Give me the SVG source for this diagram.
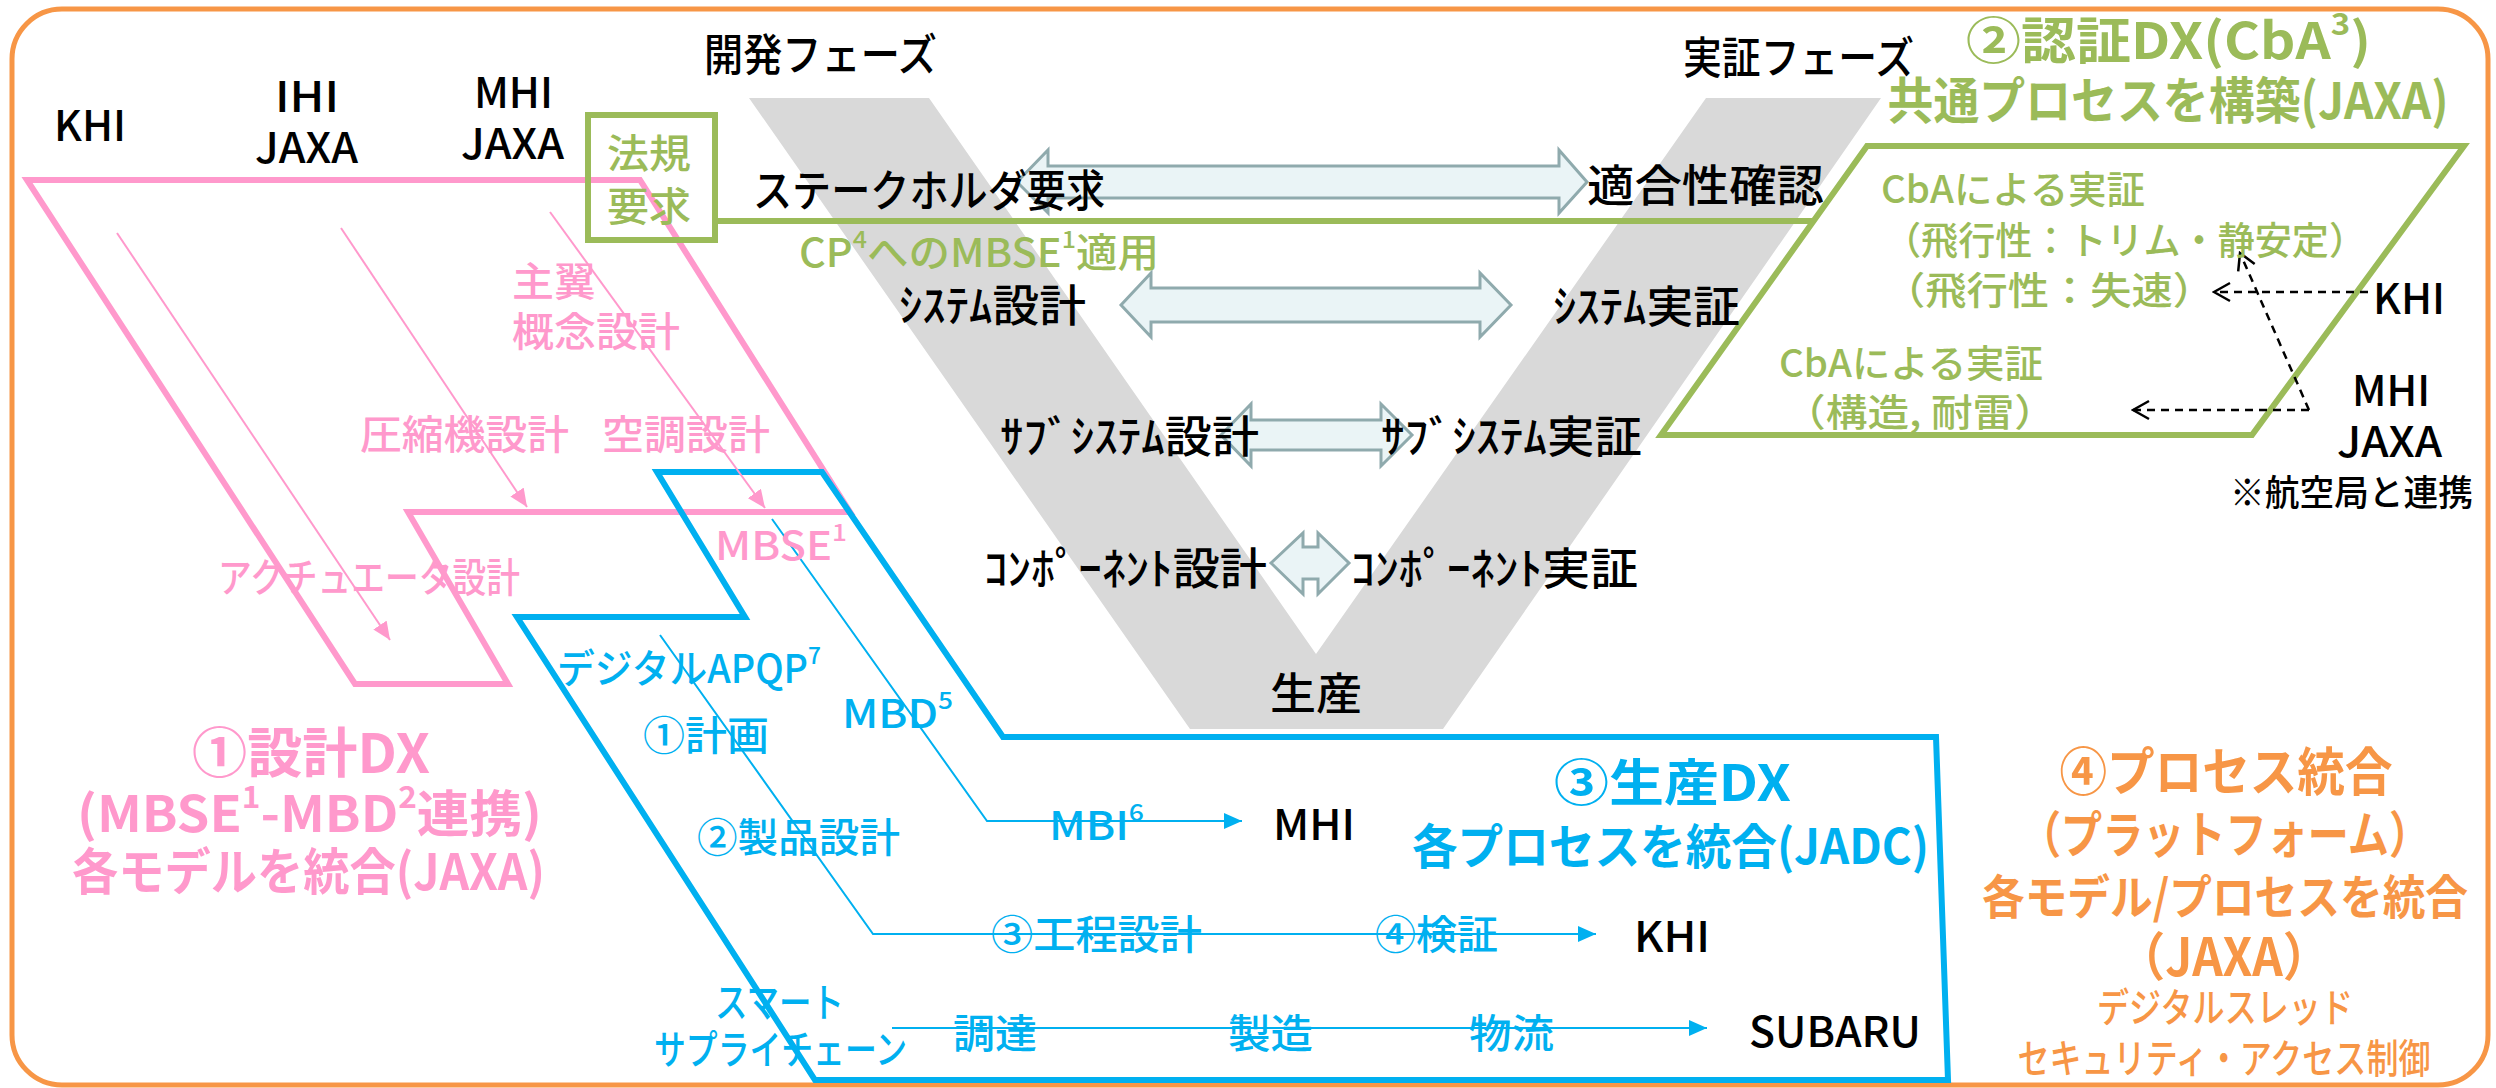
<svg xmlns="http://www.w3.org/2000/svg" width="2496" height="1088" viewBox="0 0 2496 1088">
<defs>
<style>
text{font-family:"Noto Sans CJK JP","Noto Sans",sans-serif;dominant-baseline:central;font-weight:500}
.k{fill:#000;font-size:44px}
.kl{fill:#000;font-size:42px}
.g{fill:#9BBB59;font-size:38px}
.p{fill:#FF99CC;font-size:40px}
.b{fill:#00B0F0;font-size:40px}
.o{fill:#F79646;font-size:40px;text-anchor:middle}
.bd{font-weight:bold}
.dbl{fill:#EAF4F6;stroke:#8FAAAD;stroke-width:3}
.pk{fill:none;stroke:#FF99CC;stroke-width:6;stroke-linejoin:miter}
.bl{fill:none;stroke:#00B0F0;stroke-width:6;stroke-linejoin:miter}
.gr{fill:none;stroke:#9BBB59;stroke-width:6}
.pt{fill:none;stroke:#FF99CC;stroke-width:2}
.bt{fill:none;stroke:#00B0F0;stroke-width:2}
.ds{fill:none;stroke:#000;stroke-width:2.5;stroke-dasharray:8 6}
</style>
<marker id="mp" markerUnits="userSpaceOnUse" viewBox="0 0 18 16" refX="18" refY="8" markerWidth="18" markerHeight="16" orient="auto"><path d="M0,0 L18,8 L0,16 z" fill="#FF99CC"/></marker>
<marker id="mb" markerUnits="userSpaceOnUse" viewBox="0 0 18 16" refX="18" refY="8" markerWidth="18" markerHeight="16" orient="auto"><path d="M0,0 L18,8 L0,16 z" fill="#00B0F0"/></marker>
<marker id="mo" markerUnits="userSpaceOnUse" viewBox="0 0 20 22" refX="18" refY="11" markerWidth="20" markerHeight="22" orient="auto"><path d="M2,2 L18,11 L2,20" fill="none" stroke="#000" stroke-width="2.5" stroke-dasharray="none"/></marker>
</defs>

<g id="frame"><rect x="12" y="9" width="2476" height="1076" rx="50" ry="50" fill="#fff" stroke="#F79646" stroke-width="5"/></g>

<g id="vshape"><polygon points="749,98 929,98 1316,654 1706,98 1881,98 1443,729 1190,729" fill="#D9D9D9"/></g>

<g id="design-dx">
<polygon class="pk" points="27,180 640,180 850,512 408,512 508,684 355,684"/>
</g>

<g id="production-dx">
<polygon class="bl" points="657,472 822,472 1003,737 1936,737 1948,1080 815,1080 517,617 745,617"/>
</g>

<g id="certification-dx">
<rect class="gr" x="588" y="115" width="127" height="125"/>
<polygon class="gr" points="1867,146 2464,146 2252,435 1661,435"/>
</g>

<g id="connectors">
<line class="gr" x1="715" y1="221" x2="1813" y2="221"/>
<line class="pt" x1="117" y1="233" x2="390" y2="640" marker-end="url(#mp)"/>
<line class="pt" x1="341" y1="228" x2="527" y2="507" marker-end="url(#mp)"/>
<line class="pt" x1="550" y1="212" x2="765" y2="508" marker-end="url(#mp)"/>
<polyline class="bt" points="772,519 987,821 1242,821" marker-end="url(#mb)"/>
<polyline class="bt" points="660,635 873,934 1596,934" marker-end="url(#mb)"/>
<line class="bt" x1="892" y1="1028" x2="1707" y2="1028" marker-end="url(#mb)"/>
<line class="ds" x1="2368" y1="292" x2="2214" y2="292" marker-end="url(#mo)"/>
<line class="ds" x1="2309" y1="410" x2="2133" y2="410" marker-end="url(#mo)"/>
<line class="ds" x1="2309" y1="410" x2="2240" y2="253" marker-end="url(#mo)"/>
<polygon class="dbl" points="1017,182 1048,150 1048,166 1559,166 1559,150 1587,182 1559,213 1559,198 1048,198 1048,213"/>
<polygon class="dbl" points="1121,305 1151,273 1151,288 1480,288 1480,273 1511,305 1480,337 1480,322 1151,322 1151,337"/>
<polygon class="dbl" points="1221,435 1251,404 1251,420 1381,420 1381,404 1412,435 1381,466 1381,450 1251,450 1251,466"/>
<polygon class="dbl" points="1271,563 1303,533 1303,547 1318,547 1318,533 1349,563 1318,594 1318,579 1303,579 1303,594"/>
</g>

<g id="v-labels">
<text class="k" x="704" y="52" textLength="233" lengthAdjust="spacingAndGlyphs">開発フェーズ</text>
<text class="k" x="1683" y="55" textLength="231" lengthAdjust="spacingAndGlyphs">実証フェーズ</text>
<text class="k" x="753" y="188" textLength="352" lengthAdjust="spacingAndGlyphs">ステークホルダ要求</text>
<text class="k" x="1587" y="183" textLength="237" lengthAdjust="spacingAndGlyphs">適合性確認</text>
<text class="k" x="899" y="303" textLength="187" lengthAdjust="spacingAndGlyphs">ｼｽﾃﾑ設計</text>
<text class="k" x="1553" y="304" textLength="187" lengthAdjust="spacingAndGlyphs">ｼｽﾃﾑ実証</text>
<text class="k" x="1000" y="434" textLength="259" lengthAdjust="spacingAndGlyphs">ｻﾌﾞｼｽﾃﾑ設計</text>
<text class="k" x="1381" y="434" textLength="261" lengthAdjust="spacingAndGlyphs">ｻﾌﾞｼｽﾃﾑ実証</text>
<text class="k" x="984" y="566" textLength="283" lengthAdjust="spacingAndGlyphs">ｺﾝﾎﾟｰﾈﾝﾄ設計</text>
<text class="k" x="1351" y="566" textLength="287" lengthAdjust="spacingAndGlyphs">ｺﾝﾎﾟｰﾈﾝﾄ実証</text>
<text class="k" x="1270" y="691" textLength="92" lengthAdjust="spacingAndGlyphs">生産</text>
</g>

<g id="companies">
<text class="kl" x="54" y="122" textLength="72" lengthAdjust="spacingAndGlyphs">KHI</text>
<text class="kl" x="275" y="93" textLength="64" lengthAdjust="spacingAndGlyphs">IHI</text>
<text class="kl" x="255" y="144" textLength="103" lengthAdjust="spacingAndGlyphs">JAXA</text>
<text class="kl" x="474" y="89" textLength="79" lengthAdjust="spacingAndGlyphs">MHI</text>
<text class="kl" x="461" y="140" textLength="103" lengthAdjust="spacingAndGlyphs">JAXA</text>
<text class="kl" x="1273" y="821" textLength="82" lengthAdjust="spacingAndGlyphs">MHI</text>
<text class="kl" x="1634" y="933" textLength="76" lengthAdjust="spacingAndGlyphs">KHI</text>
<text class="kl" x="1749" y="1028" textLength="172" lengthAdjust="spacingAndGlyphs">SUBARU</text>
<text class="kl" x="2373" y="295" textLength="72" lengthAdjust="spacingAndGlyphs">KHI</text>
<text class="kl" x="2352" y="387" textLength="78" lengthAdjust="spacingAndGlyphs">MHI</text>
<text class="kl" x="2337" y="438" textLength="105" lengthAdjust="spacingAndGlyphs">JAXA</text>
<text class="k" style="font-size:36px" x="2230" y="490" textLength="243" lengthAdjust="spacingAndGlyphs">※航空局と連携</text>
</g>

<g id="green-labels">
<text class="g" style="font-size:40px" x="607" y="151" textLength="84" lengthAdjust="spacingAndGlyphs">法規</text>
<text class="g" style="font-size:40px" x="607" y="204" textLength="84" lengthAdjust="spacingAndGlyphs">要求</text>
<text class="g" style="font-size:40px" x="799" y="250" textLength="360" lengthAdjust="spacingAndGlyphs">CP<tspan dy="-13" font-size="24">4</tspan><tspan dy="13">へのMBSE</tspan><tspan dy="-13" font-size="24">1</tspan><tspan dy="13">適用</tspan></text>
<text class="g bd" style="font-size:50px" x="1966" y="37" textLength="405" lengthAdjust="spacingAndGlyphs">②認証DX(CbA<tspan dy="-15" font-size="30">3</tspan><tspan dy="15">)</tspan></text>
<text class="g bd" style="font-size:50px;text-anchor:middle" x="2168" y="97" textLength="561" lengthAdjust="spacingAndGlyphs">共通プロセスを構築(JAXA)</text>
<text class="g" x="1881" y="186" textLength="264" lengthAdjust="spacingAndGlyphs">CbAによる実証</text>
<text class="g" x="1884" y="237" textLength="482" lengthAdjust="spacingAndGlyphs">（飛行性：トリム・静安定）</text>
<text class="g" x="1884" y="287" textLength="330" lengthAdjust="spacingAndGlyphs">（飛行性：失速）</text>
<text class="g" x="1779" y="360" textLength="264" lengthAdjust="spacingAndGlyphs">CbAによる実証</text>
<text class="g" x="1784" y="409" textLength="272" lengthAdjust="spacingAndGlyphs">（構造, 耐雷）</text>
</g>

<g id="pink-labels">
<text class="p" x="512" y="279" textLength="84" lengthAdjust="spacingAndGlyphs">主翼</text>
<text class="p" x="512" y="329" textLength="168" lengthAdjust="spacingAndGlyphs">概念設計</text>
<text class="p" x="360" y="432" textLength="209" lengthAdjust="spacingAndGlyphs">圧縮機設計</text>
<text class="p" x="602" y="432" textLength="168" lengthAdjust="spacingAndGlyphs">空調設計</text>
<text class="p" x="218" y="575" textLength="302" lengthAdjust="spacingAndGlyphs">アクチュエータ設計</text>
<text class="p" x="715" y="543" textLength="132" lengthAdjust="spacingAndGlyphs">MBSE<tspan dy="-13" font-size="24">1</tspan></text>
<text class="p bd" style="font-size:54px" x="192" y="749" textLength="238" lengthAdjust="spacingAndGlyphs">①設計DX</text>
<text class="p bd" style="font-size:50px" x="77" y="810" textLength="465" lengthAdjust="spacingAndGlyphs">(MBSE<tspan dy="-15" font-size="30">1</tspan><tspan dy="15">-MBD</tspan><tspan dy="-15" font-size="30">2</tspan><tspan dy="15">連携)</tspan></text>
<text class="p bd" style="font-size:50px" x="72" y="868" textLength="473" lengthAdjust="spacingAndGlyphs">各モデルを統合(JAXA)</text>
</g>

<g id="blue-labels">
<text class="b" x="557" y="666" textLength="264" lengthAdjust="spacingAndGlyphs">デジタルAPQP<tspan dy="-13" font-size="24">7</tspan></text>
<text class="b" x="643" y="733" textLength="126" lengthAdjust="spacingAndGlyphs">①計画</text>
<text class="b" x="842" y="711" textLength="111" lengthAdjust="spacingAndGlyphs">MBD<tspan dy="-13" font-size="24">5</tspan></text>
<text class="b" x="697" y="835" textLength="203" lengthAdjust="spacingAndGlyphs">②製品設計</text>
<text class="b" x="1049" y="823" textLength="95" lengthAdjust="spacingAndGlyphs">MBI<tspan dy="-13" font-size="24">6</tspan></text>
<text class="b" x="991" y="932" textLength="211" lengthAdjust="spacingAndGlyphs">③工程設計</text>
<text class="b" x="1375" y="932" textLength="123" lengthAdjust="spacingAndGlyphs">④検証</text>
<text class="b" x="715" y="1000" textLength="129" lengthAdjust="spacingAndGlyphs">スマート</text>
<text class="b" x="654" y="1047" textLength="253" lengthAdjust="spacingAndGlyphs">サプライチェーン</text>
<text class="b" x="953" y="1031" textLength="84" lengthAdjust="spacingAndGlyphs">調達</text>
<text class="b" x="1228" y="1031" textLength="85" lengthAdjust="spacingAndGlyphs">製造</text>
<text class="b" x="1469" y="1031" textLength="85" lengthAdjust="spacingAndGlyphs">物流</text>
<text class="b bd" style="font-size:50px" x="1554" y="779" textLength="237" lengthAdjust="spacingAndGlyphs">③生産DX</text>
<text class="b bd" style="font-size:48px" x="1412" y="843" textLength="517" lengthAdjust="spacingAndGlyphs">各プロセスを統合(JADC)</text>
</g>

<g id="platform-labels">
<text class="o bd" style="font-size:52px" x="2226" y="768" textLength="333" lengthAdjust="spacingAndGlyphs">④プロセス統合</text>
<text class="o bd" style="font-size:50px" x="2225" y="831" textLength="410" lengthAdjust="spacingAndGlyphs">（プラットフォーム）</text>
<text class="o bd" style="font-size:47px" x="2225" y="893" textLength="486" lengthAdjust="spacingAndGlyphs">各モデル/プロセスを統合</text>
<text class="o bd" style="font-size:52px" x="2224" y="953" textLength="213" lengthAdjust="spacingAndGlyphs">（JAXA）</text>
<text class="o" x="2225" y="1005" textLength="256" lengthAdjust="spacingAndGlyphs">デジタルスレッド</text>
<text class="o" x="2224" y="1056" textLength="413" lengthAdjust="spacingAndGlyphs">セキュリティ・アクセス制御</text>
</g>
</svg>
